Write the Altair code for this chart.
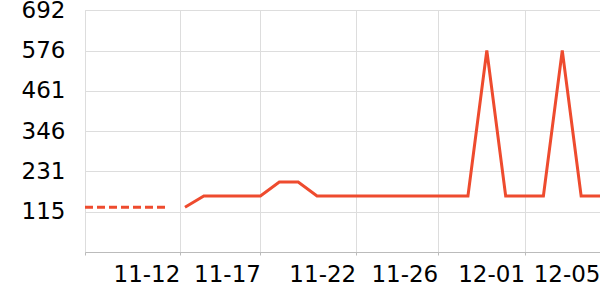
import altair as alt
import pandas as pd
from datetime import date

YEAR = 2023
BASE = date(YEAR, 11, 13)

# solid series (daily)
solid_dates = ["11-13", "11-14", "11-15", "11-16", "11-17", "11-18", "11-19", "11-20",
               "11-21", "11-22", "11-23", "11-24", "11-25", "11-26", "11-27", "11-28",
               "11-29", "11-30", "12-01", "12-02", "12-03", "12-04", "12-05"]
solid_values = [128, 160, 160, 160, 160, 200, 200, 160, 160, 160, 160, 160, 160, 160,
                160, 160, 576, 160, 160, 160, 576, 160, 160]

# dashed series
dashed_dates = ["11-07", "11-08", "11-09", "11-10", "11-11", "11-12"]
dashed_values = [128, 128, 128, 128, 128, 128]

# axis ticks
x_tick_days = [-5.3, -0.27, 4.0, 9.05, 13.4, 18.0, 22.0]
x_tick_labels = ["", "11-12", "11-17", "11-22", "11-26", "12-01", "12-05"]
y_tick_values = [115, 231, 346, 461, 576, 692]


def day_offset(md):
    m, d = md.split("-")
    return (date(YEAR, int(m), int(d)) - BASE).days


solid = pd.DataFrame({"day": [day_offset(d) for d in solid_dates], "value": solid_values})
dashed = pd.DataFrame({"day": [day_offset(d) for d in dashed_dates], "value": dashed_values})

ticks_js = "[" + ",".join(repr(v) for v in x_tick_days) + "]"
labels_js = "[" + ",".join("'" + s + "'" for s in x_tick_labels) + "]"
label_expr = f"{labels_js}[indexof({ticks_js}, datum.value)]"

FONT = "DejaVu Sans"
LINE = "#EE4B2E"

x_enc = alt.X(
    "day:Q",
    scale=alt.Scale(domain=[-5.3, 22], nice=False, zero=False),
    axis=alt.Axis(
        values=x_tick_days, labelExpr=label_expr, title=None,
        labelAlign="right", labelBaseline="top", labelFont=FONT, labelFontSize=23,
        labelColor="#000", labelPadding=8, labelFlush=False, labelOverlap=False,
        labelBound=False, tickSize=3, tickColor="#bbb", domainColor="#bbb",
        gridColor="#ddd", grid=True,
    ),
)
y_enc = alt.Y(
    "value:Q",
    scale=alt.Scale(domain=[0, 692], nice=False),
    axis=alt.Axis(
        values=y_tick_values, title=None, ticks=False, domain=False,
        labelFont=FONT, labelFontSize=23, labelColor="#000", labelPadding=20,
        gridColor="#ddd", labelFlush=False, labelOverlap=False,
    ),
)

solid_line = alt.Chart(solid).mark_line(color=LINE, strokeWidth=3, clip=True).encode(x=x_enc, y=y_enc)
dashed_line = alt.Chart(dashed).mark_line(
    color=LINE, strokeWidth=3, strokeDash=[8, 4], strokeDashOffset=10.8, clip=True
).encode(x=x_enc, y=y_enc)

chart = (
    alt.layer(dashed_line, solid_line)
    .properties(width=515, height=242, autosize=alt.AutoSizeParams(type="none"),
                padding={"left": 85, "top": 10, "right": 0, "bottom": 48})
    .configure_view(stroke=None)
    .configure(background="white")
)

chart.save("out.html", embed_options={"renderer": "svg", "actions": False})
